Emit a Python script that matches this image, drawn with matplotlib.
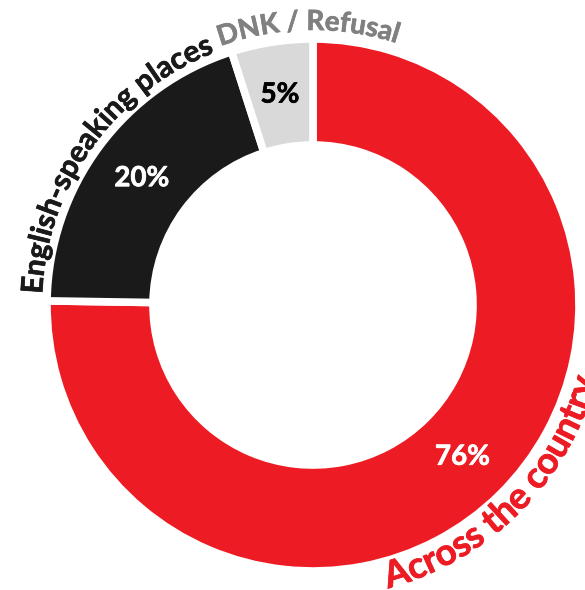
import numpy as np
import matplotlib
matplotlib.use("Agg")
import matplotlib.pyplot as plt
import matplotlib.patheffects as pe
from matplotlib.font_manager import FontProperties

# Data
categories = ["Across the country", "English-speaking places", "DNK / Refusal"]
values = [76, 20, 5]
pct_labels = ["76%", "20%", "5%"]

# Colours
slice_colors = ["#ED1C24", "#1A1A1A", "#D9D9D9"]
pct_colors = ["white", "white", "black"]
name_colors = ["#ED1C24", "#1A1A1A", "#808080"]

FONT = "Lato"
WEIGHT = "bold"

# Figure in pixel-like units
fig = plt.figure(figsize=(5.85, 5.9), dpi=100)
ax = fig.add_axes([0, 0, 1, 1])
cx, cy = 313, 285
R = 266

wedges, _ = ax.pie(values, colors=slice_colors, startangle=90, counterclock=False,
                   radius=R, center=(cx, cy),
                   wedgeprops=dict(width=106, edgecolor="white", linewidth=5.5))
ax.set_xlim(0, 585)
ax.set_ylim(0, 590)
ax.set_aspect("equal")
ax.axis("off")


def thick(col):
    # slightly heavier strokes than plain bold
    return [pe.withStroke(linewidth=0.5, foreground=col)]


# Percent labels in the middle of each ring slice
for w, lab, col in zip(wedges, pct_labels, pct_colors):
    ang = np.deg2rad((w.theta1 + w.theta2) / 2)
    r = w.r - w.width / 2
    ax.text(cx + r * np.cos(ang), cy + r * np.sin(ang), lab, color=col,
            fontsize=20, fontweight=WEIGHT, family=FONT, ha="center", va="center",
            path_effects=thick(col))

renderer = fig.canvas.get_renderer()


def advance(s, prop):
    # width of a string incl. trailing spaces, using a sentinel char
    w = renderer.get_text_width_height_descent(s + "l", prop, ismath=False)[0]
    w0 = renderer.get_text_width_height_descent("l", prop, ismath=False)[0]
    return w - w0


def arc_text(s, center_deg, r, size, color, clockwise=True):
    prop = FontProperties(family=FONT, weight=WEIGHT, size=size)
    total = advance(s, prop)
    for i, ch in enumerate(s):
        if ch == " ":
            continue
        mid = (advance(s[:i], prop) + advance(s[:i + 1], prop)) / 2 - total / 2
        if clockwise:
            a = center_deg - np.rad2deg(mid / r)
            rot = a - 90
        else:
            a = center_deg + np.rad2deg(mid / r)
            rot = a + 90
        t = np.deg2rad(a)
        ax.text(cx + r * np.cos(t), cy + r * np.sin(t), ch, fontproperties=prop,
                color=color, rotation=rot, rotation_mode="anchor",
                ha="center", va="baseline", path_effects=thick(color))


# Curved category names
arc_text(categories[0], -45, 293, 26.5, name_colors[0], clockwise=False)
arc_text(categories[1], 144.5, 271, 21.5, name_colors[1])
arc_text(categories[2], 91, 275, 20, name_colors[2])

fig.savefig("out.png", dpi=100)
